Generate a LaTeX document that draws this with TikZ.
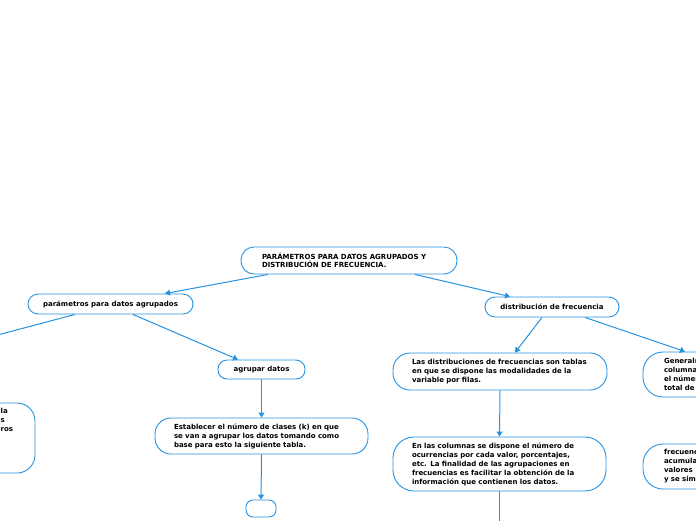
\documentclass[tikz,border=0pt]{standalone}
\usepackage{fontspec}
\setmainfont{DejaVu Sans}
\usetikzlibrary{arrows.meta,calc}
\definecolor{lineblue}{RGB}{38,146,226}
\tikzset{
  box/.style={draw=lineblue, line width=0.9pt, fill=white, inner sep=0pt,
    font=\bfseries\fontsize{7}{9}\selectfont, align=left},
  link/.style={draw=lineblue, line width=1pt, -{Triangle[width=6pt,length=5pt]}},
}
\begin{document}
\begin{tikzpicture}[x=1pt,y=-1pt]
\useasboundingbox (0,0) rectangle (696,520);
\clip (0,0) rectangle (696,520);

% boxes
\node[box, rounded corners=13pt, minimum width=216pt, minimum height=27pt, text width=174pt,
  font=\bfseries\fontsize{7}{8.5}\selectfont]
  (top) at (349,260.5) {PARÁMETROS PARA DATOS AGRUPADOS Y\\DISTRIBUCIÓN DE FRECUENCIA.};
\node[box, rounded corners=10pt, minimum width=165pt, minimum height=20pt, align=center]
  (param) at (110.5,304) {parámetros para datos agrupados};
\node[box, rounded corners=9pt, minimum width=87pt, minimum height=19pt, align=center]
  (agrupar) at (261.5,369.5) {agrupar datos};
\node[box, rounded corners=16pt, minimum width=213pt, minimum height=36pt, text width=175pt]
  (estab) at (261.5,436) {Establecer el número de clases (k) en que\\se van a agrupar los datos tomando como\\base para esto la siguiente tabla.};
\node[box, rounded corners=7pt, minimum width=30pt, minimum height=17pt]
  (small) at (261,508.5) {};
\node[box, rounded corners=10pt, minimum width=134pt, minimum height=20pt, align=center]
  (dist) at (552,307) {distribución de frecuencia};
\node[box, rounded corners=17pt, minimum width=214pt, minimum height=37pt, text width=176pt]
  (las) at (500,371.5) {Las distribuciones de frecuencias son tablas\\en que se dispone las modalidades de la\\variable por filas.};
\node[box, rounded corners=21pt, minimum width=213pt, minimum height=54pt, text width=175pt]
  (en) at (499.5,464) {En las columnas se dispone el número de\\ocurrencias por cada valor, porcentajes,\\etc. La finalidad de las agrupaciones en\\frecuencias es facilitar la obtención de la\\información que contienen los datos.};
\node[box, rounded corners=20pt, minimum width=214pt, minimum height=45pt, text width=172pt]
  (gen) at (750,374.5) {Generalmente\\columnas\\el número\\total de};
\node[box, rounded corners=20pt, minimum width=214pt, minimum height=45pt, text width=172pt]
  (frec) at (750,466.5) {frecuencias\\acumuladas\\valores\\y se simbolizan};
\node[box, rounded corners=18pt, minimum width=215pt, minimum height=70pt]
  (left) at (-72.5,438) {};
\node[font=\bfseries\fontsize{7}{9}\selectfont, align=left, inner sep=0pt, anchor=north west]
  (lefttxt) at (0.5,408) {la\\s\\ros};

% free ends
\coordinate (offL) at (-10,337);
\coordinate (offB) at (499.5,530);

% connectors
\draw[link] ([xshift=-81pt]top.south) -- ([xshift=54.5pt]param.north);
\draw[link] ([xshift=66pt]top.south) -- ([xshift=-42pt]dist.north);
\draw[link, -] ([xshift=-35.5pt]param.south) -- (offL);
\draw[link] ([xshift=22.5pt]param.south) -- ([xshift=-23.5pt]agrupar.north);
\draw[link] (agrupar.south) -- (estab.north);
\draw[link] (estab.south) -- (small.north);
\draw[link] ([xshift=-10pt]dist.south) -- ([xshift=15pt]las.north);
\draw[link] ([xshift=33pt]dist.south) -- ([xshift=-65pt]gen.north);
\draw[link] (las.south) -- (en.north);
\draw[link, -] (en.south) -- (offB);
\end{tikzpicture}
\end{document}
